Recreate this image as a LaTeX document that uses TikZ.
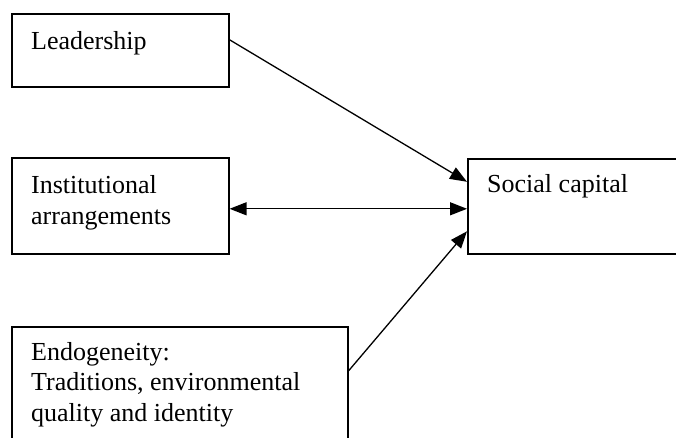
\documentclass[tikz,border=0pt]{standalone}
\usepackage{fontspec}
\setmainfont{Liberation Serif}
\usetikzlibrary{arrows.meta,calc}
\begin{document}
\begin{tikzpicture}[x=1pt,y=-1pt,
  box/.style={draw, line width=1.6pt, rectangle, inner sep=0pt, anchor=north west},
  txt/.style={anchor=base west, inner sep=0pt, align=left,
    font=\fontsize{26}{30.5}\selectfont},
  arr/.style={line width=1.3pt, -{Triangle[length=17pt,width=13pt]}},
  darr/.style={line width=1.3pt, {Triangle[length=17pt,width=13pt]}-{Triangle[length=17pt,width=13pt]}}]
  \useasboundingbox (0,0) rectangle (676,438);
  \clip (0,0) rectangle (676,438);
  % boxes
  \node[box, minimum width=217pt, minimum height=73pt] (lead) at (11,13) {};
  \node[box, minimum width=217pt, minimum height=96pt] (inst) at (11,157) {};
  \node[box, minimum width=336pt, minimum height=150pt] (endo) at (11,326) {};
  \node[box, minimum width=260pt, minimum height=95pt] (soc) at (467,158) {};
  % labels (anchored at the baseline of the last line)
  \node[txt] (tlead) at (31,50) {Leadership};
  \node[txt] (tinst) at (31,224) {Institutional\\arrangements};
  \node[txt] (tendo) at (31,421) {Endogeneity:\\Traditions, environmental\\quality and identity};
  \node[txt] (tsoc) at (487,193) {Social capital};
  % connectors
  \draw[arr] ([yshift=10.5pt]lead.east) -- ([yshift=24.5pt]soc.west);
  \draw[darr] ([yshift=-3pt]inst.east) -- ([yshift=-2.5pt]soc.west);
  \draw[arr] ([yshift=31pt]endo.east) -- ([yshift=-25pt]soc.west);
\end{tikzpicture}
\end{document}
